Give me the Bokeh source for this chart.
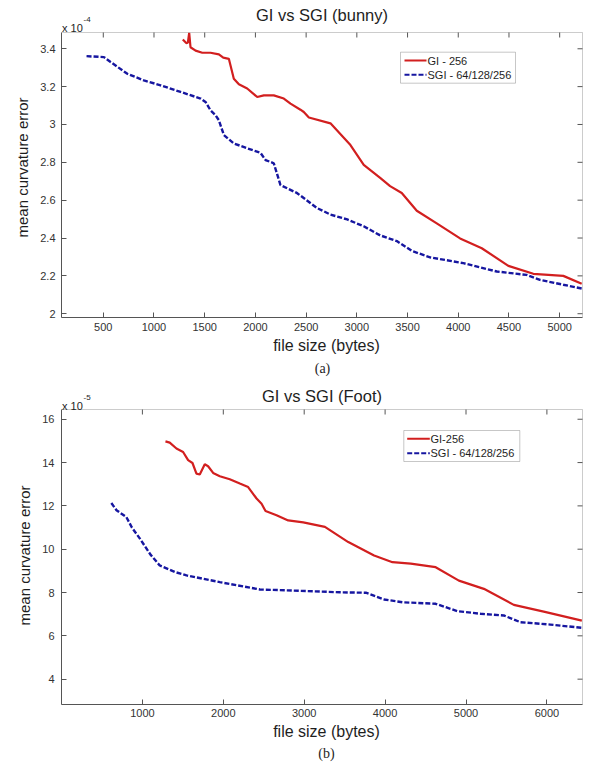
import math
from bokeh.plotting import figure
from bokeh.models import Range1d, FixedTicker, Label, Title, BoxAnnotation, Arrow
from bokeh.layouts import column
from bokeh.embed import file_html
from bokeh.resources import INLINE

# ---------------- data (panel a: bunny) ----------------
gi_bunny_x = [1284, 1318, 1334, 1347, 1360, 1410, 1476, 1557, 1640, 1683, 1738, 1787, 1837,
              1919, 2018, 2083, 2181, 2280, 2346, 2444, 2477, 2527, 2740, 2937, 3068, 3233,
              3328, 3443, 3591, 3788, 4018, 4232, 4494, 4740, 5036, 5217]
gi_bunny_y = [3.449, 3.430, 3.432, 3.484, 3.408, 3.390, 3.379, 3.379, 3.370, 3.353, 3.347,
              3.242, 3.212, 3.190, 3.145, 3.154, 3.154, 3.137, 3.110, 3.078, 3.066, 3.037,
              3.006, 2.891, 2.786, 2.716, 2.674, 2.638, 2.544, 2.477, 2.398, 2.346, 2.253,
              2.211, 2.200, 2.158]
sgi_bunny_x = [335, 506, 572, 737, 900, 1065, 1262, 1459, 1508, 1557, 1607, 1639, 1689, 1787,
               1919, 2050, 2100, 2181, 2247, 2412, 2609, 2740, 2905, 3068, 3230, 3394, 3542,
               3722, 4051, 4380, 4675, 4806, 5036, 5220]
sgi_bunny_y = [3.361, 3.356, 3.330, 3.268, 3.233, 3.207, 3.172, 3.137, 3.119, 3.075, 3.049,
               3.023, 2.944, 2.900, 2.874, 2.850, 2.812, 2.795, 2.680, 2.637, 2.558, 2.524,
               2.498, 2.462, 2.414, 2.384, 2.332, 2.298, 2.267, 2.223, 2.205, 2.179, 2.153,
               2.133]
bunny_x_ticks = [500, 1000, 1500, 2000, 2500, 3000, 3500, 4000, 4500, 5000]
bunny_x_labels = ["500", "1000", "1500", "2000", "2500", "3000", "3500", "4000", "4500", "5000"]
bunny_y_ticks = [2.0, 2.2, 2.4, 2.6, 2.8, 3.0, 3.2, 3.4]
bunny_y_labels = ["2", "2.2", "2.4", "2.6", "2.8", "3", "3.2", "3.4"]
bunny_x_lim = (88, 5225)
bunny_y_lim = (1.98, 3.486)
bunny_legend = ["GI - 256", "SGI - 64/128/256"]

# ---------------- data (panel b: foot) ----------------
gi_foot_x = [1285, 1338, 1421, 1503, 1565, 1619, 1668, 1709, 1771, 1812, 1874, 1957, 2080,
             2204, 2307, 2411, 2473, 2522, 2658, 2802, 2988, 3256, 3545, 3864, 4091, 4317,
             4625, 4912, 5221, 5591, 5961, 6432]
gi_foot_y = [14.98, 14.92, 14.65, 14.49, 14.11, 13.98, 13.49, 13.45, 13.92, 13.83, 13.52,
             13.37, 13.23, 13.03, 12.87, 12.34, 12.10, 11.76, 11.57, 11.33, 11.24, 11.03,
             10.33, 9.71, 9.40, 9.33, 9.17, 8.55, 8.17, 7.43, 7.12, 6.70]
sgi_foot_x = [616, 680, 802, 870, 967, 1100, 1214, 1400, 1545, 1957, 2452, 2864, 3442, 3762,
              3988, 4215, 4625, 4893, 5180, 5467, 5673, 6043, 6432]
sgi_foot_y = [12.13, 11.80, 11.48, 11.00, 10.50, 9.75, 9.25, 8.95, 8.79, 8.48, 8.14, 8.09,
              8.01, 7.99, 7.68, 7.55, 7.48, 7.14, 7.02, 6.94, 6.63, 6.52, 6.37]
foot_x_ticks = [1000, 2000, 3000, 4000, 5000, 6000]
foot_x_labels = ["1000", "2000", "3000", "4000", "5000", "6000"]
foot_y_ticks = [4, 6, 8, 10, 12, 14, 16]
foot_y_labels = ["4", "6", "8", "10", "12", "14", "16"]
foot_x_lim = (0, 6440)
foot_y_lim = (2.83, 16.45)
foot_legend = ["GI-256", "SGI - 64/128/256"]

RED = "#d21f1f"
BLUE = "#1616a0"
AX = "#555555"
TXT = "#1e1e1e"
SANS = "Liberation Sans"
W = 591
FRAME_LEFT = 61


def style_axis(ax, ticks, labels, standoff, bounds):
    ax.ticker = FixedTicker(ticks=ticks)
    ax.major_label_overrides = {t: l for t, l in zip(ticks, labels)}
    ax.major_tick_in = 5
    ax.major_tick_out = 0
    ax.minor_tick_in = 0
    ax.minor_tick_out = 0
    ax.axis_line_color = AX
    ax.major_tick_line_color = AX
    ax.major_label_text_font = SANS
    ax.major_label_text_font_size = "11px"
    ax.major_label_text_color = "#333333"
    ax.major_label_standoff = standoff
    ax.bounds = bounds


def add_text(p, fb, px, py, text, size, font=SANS, align="center", baseline="middle"):
    p.add_layout(Label(x=px - FRAME_LEFT, y=fb - py, x_units="screen", y_units="screen",
                       text=text, text_font=font, text_font_size=f"{size}px",
                       text_align=align, text_baseline=baseline, text_color=TXT))


def add_legend(p, fb, box, rows, sample_x, text_x, labels):
    l, t, r, b = box
    p.add_layout(BoxAnnotation(left=l - FRAME_LEFT, right=r - FRAME_LEFT,
                               top=fb - t, bottom=fb - b,
                               left_units="screen", right_units="screen",
                               top_units="screen", bottom_units="screen",
                               fill_color="white", fill_alpha=1.0,
                               line_color="#444444", line_width=1))
    styles = [(RED, "solid", 2.0), (BLUE, "5 2", 2.0)]
    for (col, dash, lw), ry, lab in zip(styles, rows, labels):
        p.add_layout(Arrow(start=None, end=None,
                           x_start=sample_x[0] - FRAME_LEFT, x_end=sample_x[1] - FRAME_LEFT,
                           y_start=fb - ry, y_end=fb - ry,
                           start_units="screen", end_units="screen",
                           line_color=col, line_width=lw, line_dash=dash))
        add_text(p, fb, text_x, ry, lab, 11, align="left")


def make_panel(height, canvas_top, box_top, box_bottom, bottom_border, xl_, yl_,
               gx, gy, sx, sy, xt, xlab, yt, ylab, x_std, y_std, ylabel_offset):
    # plot frame spans from the canvas top to the box bottom; the box itself is narrower
    frame_right = W
    box_right = 582
    x_per_px = (xl_[1] - xl_[0]) / (box_right - FRAME_LEFT)
    x_end = xl_[1] + (frame_right - box_right) * x_per_px
    y_per_px = (yl_[1] - yl_[0]) / (box_bottom - box_top)
    y_end = yl_[1] + (box_top - canvas_top) * y_per_px
    p = figure(width=W, height=height, x_range=Range1d(xl_[0], x_end),
               y_range=Range1d(yl_[0], y_end), title=None,
               output_backend="svg", toolbar_location=None,
               min_border_left=FRAME_LEFT, min_border_right=0, min_border_top=0,
               min_border_bottom=bottom_border, background_fill_color="white",
               border_fill_color="white", outline_line_color=None)
    p.xgrid.visible = False
    p.ygrid.visible = False
    style_axis(p.xaxis[0], xt, xlab, x_std, xl_)
    style_axis(p.yaxis[0], yt, ylab, y_std, yl_)
    p.xaxis[0].axis_label = "file size (bytes)"
    p.xaxis[0].axis_label_text_font = SANS
    p.xaxis[0].axis_label_text_font_size = "16px"
    p.xaxis[0].axis_label_text_font_style = "normal"
    p.xaxis[0].axis_label_text_color = TXT
    p.xaxis[0].axis_label_standoff = 3

    p.add_layout(Title(text="mean curvature error", align="left", offset=ylabel_offset,
                       text_font=SANS, text_font_size="15px", text_font_style="normal",
                       text_color=TXT, standoff=14), "left")

    # box outline (MATLAB style) and inward ticks on top / right
    p.add_layout(BoxAnnotation(left=xl_[0], right=xl_[1], bottom=yl_[0], top=yl_[1],
                               fill_alpha=0, line_color=AX, line_width=1))
    p.ray(x=xt, y=[yl_[1]] * len(xt), length=5, length_units="screen",
          angle=-math.pi / 2, line_color=AX, line_width=1)
    p.ray(x=[xl_[1]] * len(yt), y=yt, length=5, length_units="screen",
          angle=math.pi, line_color=AX, line_width=1)

    p.line(gx, gy, line_color=RED, line_width=2.2)
    p.line(sx, sy, line_color=BLUE, line_width=2.4, line_dash="5 2")
    return p


# ---------- panel (a): canvas 0..360 ----------
FB1 = 317
p1 = make_panel(360, 0, 32, 317, 43, bunny_x_lim, bunny_y_lim,
                gi_bunny_x, gi_bunny_y, sgi_bunny_x, sgi_bunny_y,
                bunny_x_ticks, bunny_x_labels, bunny_y_ticks, bunny_y_labels,
                5, 6, 80)
add_legend(p1, FB1, (400, 51.7, 515, 82.7), (60, 74.3), (404, 426), 427, bunny_legend)
add_text(p1, FB1, 321.5, 14, "GI vs SGI (bunny)", 16.5)
add_text(p1, FB1, 61.5, 27, "x 10", 11, align="left", baseline="alphabetic")
add_text(p1, FB1, 83, 19, "-4", 8, align="left")

# ---------- panel (b): canvas 360..762 ----------
TOP2 = 360
FB2 = 704
p2 = make_panel(402, 0, 409 - TOP2, 704 - TOP2, 58, foot_x_lim, foot_y_lim,
                gi_foot_x, gi_foot_y, sgi_foot_x, sgi_foot_y,
                foot_x_ticks, foot_x_labels, foot_y_ticks, foot_y_labels,
                4, 7, 79)
add_legend(p2, FB2, (403.3, 430, 519.3, 461), (438.3, 452.7), (406.7, 429.3), 430,
           foot_legend)
p2.add_layout(Title(text="(b)", align="center", text_font="Liberation Serif",
                    text_font_size="14px", text_font_style="normal", text_color=TXT,
                    standoff=2), "below")
add_text(p2, FB2, 322, 368, "(a)", 14, font="Liberation Serif")
add_text(p2, FB2, 321.5, 395, "GI vs SGI (Foot)", 16.5)
add_text(p2, FB2, 61.5, 405, "x 10", 11, align="left", baseline="alphabetic")
add_text(p2, FB2, 83, 397, "-5", 8, align="left")

layout = column(p1, p2, spacing=0)
open("out.html", "w").write(file_html(layout, INLINE))
